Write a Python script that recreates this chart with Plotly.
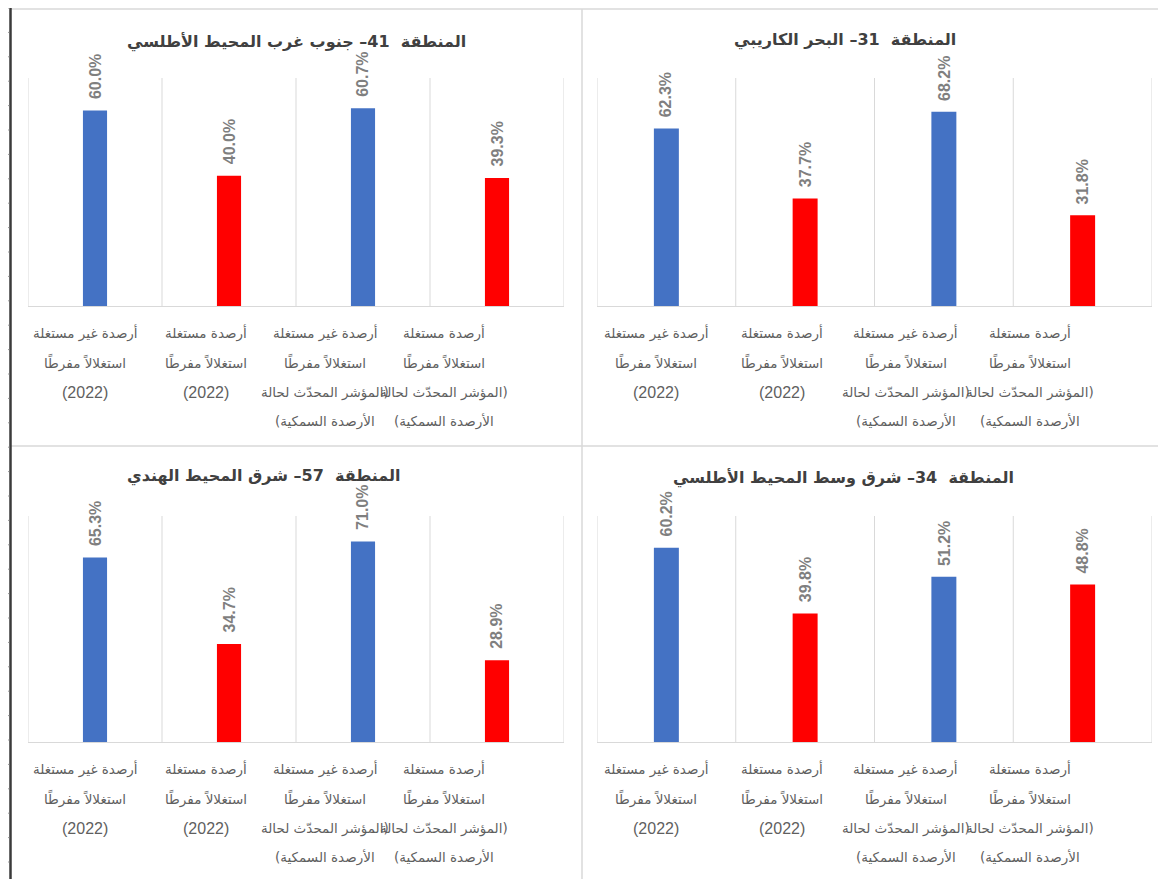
import plotly.graph_objects as go

# ---------------- data ----------------
category_lines = [
    ["أرصدة غير مستغلة", "استغلالاً مفرطًا", "(2022)"],
    ["أرصدة مستغلة", "استغلالاً مفرطًا", "(2022)"],
    ["أرصدة غير مستغلة", "استغلالاً مفرطًا", "(المؤشر المحدّث لحالة", "الأرصدة السمكية)"],
    ["أرصدة مستغلة", "استغلالاً مفرطًا", "(المؤشر المحدّث لحالة", "الأرصدة السمكية)"],
]
categories = [" ".join(c) for c in category_lines]

titles = [
    "المنطقة  41– جنوب غرب المحيط الأطلسي",
    "المنطقة  31– البحر الكاريبي",
    "المنطقة  57– شرق المحيط الهندي",
    "المنطقة  34– شرق وسط المحيط الأطلسي",
]
values_41 = [60.0, 40.0, 60.7, 39.3]
values_31 = [62.3, 37.7, 68.2, 31.8]
values_57 = [65.3, 34.7, 71.0, 28.9]
values_34 = [60.2, 39.8, 51.2, 48.8]
panel_values = [values_41, values_31, values_57, values_34]
panel_ymax = [70, 80, 80, 70]

# ---------------- style ----------------
OFF = 8                      # page body margin of the browser
W, H = 1166 - OFF, 879 - OFF
BLUE, RED = "#4472C4", "#FF0000"
bar_colors = [BLUE, RED, BLUE, RED]
GRID = "#d9d9d9"
AR_FONT = "DejaVu Sans"
LAT_FONT = "Liberation Sans"
RLI, PDI = "\u2067", "\u2069"   # right-to-left isolate for Arabic lines


def fx(p):
    return (p - OFF) / W


def fy(p):
    return 1 - (p - OFF) / H


# panel geometry in page pixels (x0, x1) and (ytop, ybottom)
px_x = [(28, 564), (597, 1152), (28, 564), (597, 1152)]
px_y = [(78, 306), (78, 306), (516, 742), (516, 742)]
title_shift = [0, -30, -32, -31]
title_y_px = [42, 40, 476, 478]
label_xshift = [-10, -23, -38, -53]

fig = go.Figure()
annotations = []
shapes = []

for i in range(4):
    n = "" if i == 0 else str(i + 1)
    xa, ya = "x" + n, "y" + n
    x0, x1 = px_x[i]
    yt, yb = px_y[i]
    fig.add_trace(go.Bar(
        x=categories, y=panel_values[i], xaxis=xa, yaxis=ya,
        marker=dict(color=bar_colors, line=dict(width=0)),
        width=0.18, showlegend=False, hoverinfo="x+y",
    ))
    fig.layout["xaxis" + n] = dict(
        domain=[fx(x0), fx(x1)], anchor=ya, type="category",
        range=[-0.5, 3.5], showticklabels=False, ticks="",
        showgrid=False, zeroline=False, showline=True,
        linecolor=GRID, linewidth=1, fixedrange=True,
    )
    fig.layout["yaxis" + n] = dict(
        domain=[fy(yb), fy(yt)], anchor=xa,
        range=[0, panel_ymax[i]], visible=False, fixedrange=True,
    )
    # vertical category boundary lines
    for b in range(5):
        shapes.append(dict(type="line", xref=xa, yref=ya + " domain",
                           x0=b - 0.5, x1=b - 0.5, y0=0, y1=1,
                           line=dict(color=GRID, width=1)))
    # title
    annotations.append(dict(
        text="<b>" + RLI + titles[i] + PDI + "</b>", xref=xa + " domain",
        yref="paper", x=0.5, y=fy(title_y_px[i]), xshift=title_shift[i],
        showarrow=False, xanchor="center", yanchor="middle",
        font=dict(family=AR_FONT, size=16, color="#404040"),
    ))
    # value labels
    for j, v in enumerate(panel_values[i]):
        annotations.append(dict(
            text="<b>%.1f%%</b>" % v, xref=xa, yref=ya, x=j, y=v,
            yshift=9, textangle=-90, showarrow=False,
            xanchor="center", yanchor="bottom",
            font=dict(family=LAT_FONT, size=16, color="#7f7f7f"),
        ))
    # category labels (one annotation per text line)
    for j, lines in enumerate(category_lines):
        for k, line in enumerate(lines):
            is_year = line == "(2022)"
            annotations.append(dict(
                text=RLI + line + PDI, xref=xa, yref=ya + " domain",
                x=j, y=0, xshift=label_xshift[j], yshift=-27 - 29.5 * k,
                showarrow=False, xanchor="center", yanchor="middle",
                font=dict(family=LAT_FONT if is_year else AR_FONT,
                          size=16 if is_year else 13.5, color="#5f5f5f"),
            ))

# panel frame lines and left ruler
shapes += [
    dict(type="line", xref="paper", yref="paper", x0=fx(10), x1=1,
         y0=fy(9), y1=fy(9), line=dict(color=GRID, width=1.5)),
    dict(type="line", xref="paper", yref="paper", x0=fx(10), x1=1,
         y0=fy(446), y1=fy(446), line=dict(color=GRID, width=1.5)),
    dict(type="line", xref="paper", yref="paper", x0=fx(582), x1=fx(582),
         y0=0, y1=fy(9), line=dict(color=GRID, width=1.5)),
    dict(type="line", xref="paper", yref="paper", x0=fx(10.5), x1=fx(10.5),
         y0=0, y1=1, line=dict(color="#3a3a3a", width=2.5)),
]
t = 8.0
while t < 879:
    shapes.append(dict(type="line", xref="paper", yref="paper",
                       x0=fx(8), x1=fx(9.3), y0=fy(t), y1=fy(t),
                       line=dict(color="#9a9a9a", width=1)))
    t += 24.4

fig.update_layout(
    width=W, height=H, autosize=False,
    margin=dict(l=0, r=0, t=0, b=0),
    paper_bgcolor="white", plot_bgcolor="white",
    annotations=annotations, shapes=shapes,
)
fig.write_html("out.html")
